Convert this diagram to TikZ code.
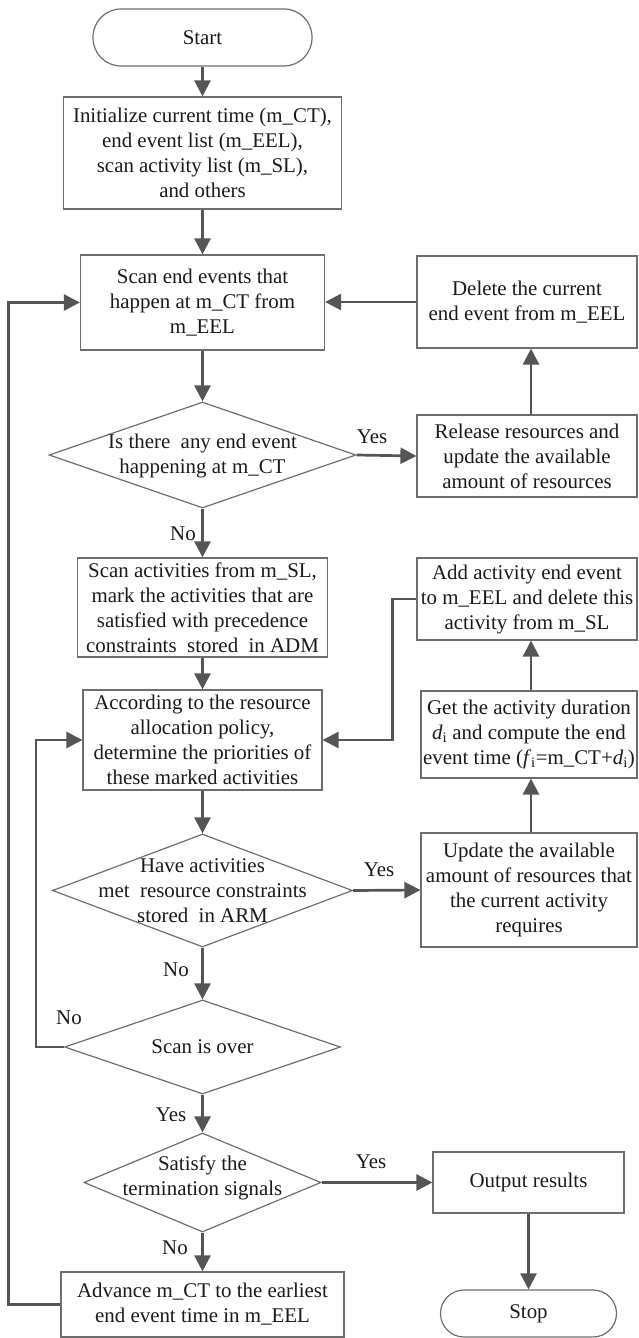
\documentclass[tikz,border=0pt]{standalone}
\usepackage{fontspec}
\setmainfont{Liberation Serif}
\usetikzlibrary{arrows.meta,shapes.geometric}
\definecolor{ln}{HTML}{555555}
\definecolor{bd}{HTML}{6E6E6E}
\definecolor{tx}{HTML}{1A1A1A}
\tikzset{
  txtf/.style={font=\fontsize{20.9}{25}\selectfont, text=tx},
  box/.style={txtf, draw=bd, line width=1.2pt, rectangle, inner sep=0pt, align=center},
  term/.style={box, rounded corners=#1},
  dia/.style={draw=bd, line width=1.2pt, diamond, inner sep=0pt},
  dtext/.style={txtf, align=center, inner sep=0pt},
  lbl/.style={txtf, inner sep=0pt},
  arr/.style={draw=ln, line width=2.7pt, -{Triangle[length=16pt,width=16pt]}}
}
\begin{document}
\begin{tikzpicture}[x=1pt,y=-1pt]
\useasboundingbox (0,0) rectangle (639,1338);
\coordinate (rx) at (531,0);
% left column
\node[term=28pt, minimum width=219pt, minimum height=57pt] (start) at (202.5,37.5) {Start};
\node[box, minimum width=278pt, minimum height=112pt] (init) at (202.5,153) {Initialize current time (m\_CT),\\end event list (m\_EEL),\\scan activity list (m\_SL),\\and others};
\node[box, minimum width=244pt, minimum height=95pt] (scan) at (202.5,302.5) {Scan end events that\\happen at m\_CT from\\m\_EEL};
\node[dia, minimum width=307pt, minimum height=106pt] (d1) at (202.5,455) {};
\node[dtext] (d1t) at (202.5,456) {Is there\ \ any end event\\happening at m\_CT};
\node[box, minimum width=250pt, minimum height=99pt] (scanact) at (202.5,607.5) {Scan activities from m\_SL,\\mark the activities that are\\satisfied with precedence\\constraints\ \ stored\ \ in ADM};
\node[box, minimum width=239pt, minimum height=100pt] (accord) at (202.5,740) {According to the resource\\allocation policy,\\determine the priorities of\\these marked activities};
\node[dia, minimum width=300pt, minimum height=113pt] (d2) at (202.5,890.5) {};
\node[dtext] (d2t) at (202.5,891) {Have activities\\met\ \ resource constraints\\stored\ \ in ARM};
\node[dia, minimum width=276pt, minimum height=94pt] (d3) at (202.5,1047) {};
\node[dtext] (d3t) at (202.5,1047) {Scan is over};
\node[dia, minimum width=237pt, minimum height=99pt] (d4) at (202.5,1182.5) {};
\node[dtext] (d4t) at (202.5,1178) {Satisfy the\\termination signals};
\node[box, minimum width=283pt, minimum height=65pt] (advance) at (202.5,1304.5) {Advance m\_CT to the earliest\\end event time in m\_EEL};
% right column
\node[box, minimum width=220pt, minimum height=92pt] (delete) at (527,302) {Delete the current\\end event from m\_EEL};
\node[box, minimum width=220pt, minimum height=82pt] (release) at (527,456) {Release resources and\\update the available\\amount of resources};
\node[box, minimum width=220pt, minimum height=82pt] (add) at (527,599) {Add activity end event\\to m\_EEL and delete this\\activity from m\_SL};
\node[box, minimum width=216pt, minimum height=87pt] (get) at (529,734.5) {Get the activity duration\\\textit{d}\textsubscript{i} and compute the end\\event time (\textit{f}\textsubscript{i}=m\_CT+\textit{d}\textsubscript{i})};
\node[box, minimum width=216pt, minimum height=114pt] (update) at (529,890) {Update the available\\amount of resources that\\the current activity\\requires};
\node[box, minimum width=191pt, minimum height=61pt] (output) at (528.5,1182.5) {Output results};
\node[term=23.5pt, minimum width=176pt, minimum height=47pt] (stop) at (528.5,1313.5) {Stop};
% labels
\node[lbl] (y1) at (372,437) {Yes};
\node[lbl] (n1) at (183,534) {No};
\node[lbl] (y2) at (379,870) {Yes};
\node[lbl] (n2) at (176,970) {No};
\node[lbl] (n3) at (69,1018) {No};
\node[lbl] (y3) at (171,1115) {Yes};
\node[lbl] (y4) at (371,1162) {Yes};
\node[lbl] (n4) at (175,1248) {No};
% connectors
\draw[arr] (start) -- (init);
\draw[arr] (init) -- (scan);
\draw[arr] (scan) -- (d1);
\draw[arr] (d1.east) -- (release.west);
\draw[arr] (release.north -| rx) -- (delete.south -| rx);
\draw[arr] (delete.west) -- (scan.east |- delete.west);
\draw[arr] (d1.south) -- (scanact.north);
\draw[arr] (scanact) -- (accord);
\draw[arr] (accord) -- (d2);
\draw[arr] (d2.east) -- (update.west);
\draw[arr] (update.north -| rx) -- (get.south -| rx);
\draw[arr] (get.north -| rx) -- (add.south -| rx);
\draw[arr] (add.west) -- ++(-24,0) |- (accord.east);
\draw[arr] (d2.south) -- (d3.north);
\draw[arr] (d3.west) -- ++(-28,0) |- (accord.west);
\draw[arr] (d3.south) -- (d4.north);
\draw[arr] (d4.east) -- (output.west);
\draw[arr] (output) -- (stop);
\draw[arr] (d4.south) -- (advance.north);
\draw[arr] (advance.west) -- ++(-52,0) |- (scan.west);
\end{tikzpicture}
\end{document}
